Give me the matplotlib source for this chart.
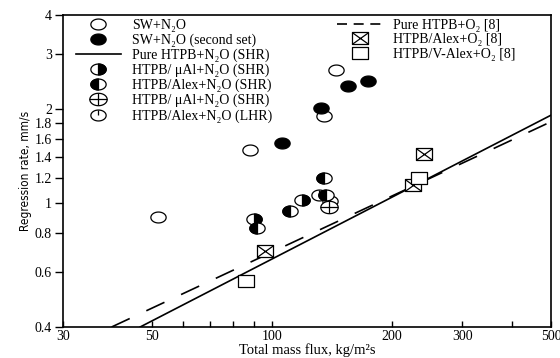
import numpy as np
import matplotlib
matplotlib.use("Agg")
import matplotlib.pyplot as plt
from matplotlib.path import Path
from matplotlib.lines import Line2D
from matplotlib.legend_handler import HandlerTuple

plt.rcParams['font.family'] = ['Liberation Serif', 'DejaVu Serif']

# data (mass flux kg/m2s, regression rate mm/s)
sw_flux = [52, 88, 135, 145]
sw_rate = [0.90, 1.48, 1.90, 2.66]
sw2_flux = [106, 133, 155, 174]
sw2_rate = [1.55, 2.02, 2.37, 2.46]
ual_flux = [90, 119]
ual_rate = [0.89, 1.02]
alex_flux = [92, 111, 137, 135]
alex_rate = [0.83, 0.94, 1.06, 1.20]
ual2_flux = [139]
ual2_rate = [0.97]
lhr_flux = [131, 140]
lhr_rate = [1.06, 1.01]
alexo2_flux = [96, 225, 240]
alexo2_rate = [0.70, 1.14, 1.43]
valexo2_flux = [86, 233]
valexo2_rate = [0.56, 1.20]
# fitted lines, two points each
shr_flux = [46.8, 500]
shr_rate = [0.40, 1.91]
o2_flux = [39.7, 500]
o2_rate = [0.40, 1.82]

xticks = [30, 50, 100, 200, 300, 500]
xminor = [60, 70, 80, 90, 400]
yticks = [0.4, 0.6, 0.8, 1, 1.2, 1.4, 1.6, 1.8, 2, 3, 4]
ylabels = ['0.4', '0.6', '0.8', '1', '1.2', '1.4', '1.6', '1.8', '2', '3', '4']

SX = 1.4  # markers in the original are wider than tall


def compound(*parts):
    return Path.make_compound_path(*parts)


def seg(p0, p1):
    return Path([p0, p1], [Path.MOVETO, Path.LINETO])


t = np.linspace(0, 2 * np.pi, 65)
ell = Path(np.column_stack([SX * np.cos(t), np.sin(t)]), closed=True)
th = np.linspace(np.pi / 2, 3 * np.pi / 2, 33)
left_half = Path(np.vstack([np.column_stack([SX * np.cos(th), np.sin(th)]), [[0, 1]]]), closed=True)
right_half = Path(np.vstack([np.column_stack([-SX * np.cos(th), np.sin(th)]), [[0, 1]]]), closed=True)
# line-only overlays, scaled with a full-size frame so they match the base shapes
cross = compound(seg((-SX, 0), (SX, 0)), seg((0, -1), (0, 1)))
tick = compound(seg((-SX, 0), (-SX, 0)), seg((SX, 0), (SX, 0)), seg((0, 1), (0, 0)))
rect = Path([(-SX, -1), (SX, -1), (SX, 1), (-SX, 1), (-SX, -1)],
            [Path.MOVETO, Path.LINETO, Path.LINETO, Path.LINETO, Path.CLOSEPOLY])
xdiag = compound(seg((-SX, -1), (SX, 1)), seg((-SX, 1), (SX, -1)))

fig = plt.figure(figsize=(5.6, 3.58), dpi=100)
ax = fig.add_axes([0.1125, 0.0866, 0.8715, 0.8715])

ms = 11
kw = dict(ls='none', mec='black', mew=0.9, zorder=3)
styles = {
    'sw': dict(marker=ell, ms=ms, mfc='white', **kw),
    'sw2': dict(marker=ell, ms=ms, mfc='black', **kw),
    'base': dict(marker=ell, ms=ms, mfc='white', **kw),
    'rhalf': dict(marker=right_half, ms=ms, mfc='black', **kw),
    'lhalf': dict(marker=left_half, ms=ms, mfc='black', **kw),
    'big': dict(marker=ell, ms=ms + 1.5, mfc='white', **kw),
    'cross': dict(marker=cross, ms=ms + 1.5, mfc='none', **kw),
    'tick': dict(marker=tick, ms=ms, mfc='none', **kw),
    'box': dict(marker=rect, ms=ms + 1, mfc='white', **kw),
    'xdiag': dict(marker=xdiag, ms=ms + 1, mfc='none', **kw),
}


def pts(x, y, *keys):
    for k in keys:
        ax.plot(x, y, **styles[k])


def handle(*keys):
    lines = tuple(Line2D([], [], **styles[k]) for k in keys)
    return lines if len(lines) > 1 else lines[0]


ax.plot(shr_flux, shr_rate, color='black', lw=1.2, zorder=2)
ax.plot(o2_flux, o2_rate, color='black', lw=1.2, dashes=(12, 11), zorder=2)
pts(sw_flux, sw_rate, 'sw')
pts(sw2_flux, sw2_rate, 'sw2')
pts(lhr_flux, lhr_rate, 'base', 'tick')
pts(ual_flux, ual_rate, 'base', 'rhalf')
pts(alex_flux, alex_rate, 'base', 'lhalf')
pts(ual2_flux, ual2_rate, 'big', 'cross')
pts(alexo2_flux, alexo2_rate, 'box', 'xdiag')
pts(valexo2_flux, valexo2_rate, 'box')

ax.set_xscale('log')
ax.set_yscale('log')
ax.set_xlim(30, 500)
ax.set_ylim(0.4, 4)
ax.set_xticks(xticks)
ax.set_xticklabels([str(v) for v in xticks])
ax.set_xticks(xminor, minor=True)
ax.set_xticklabels([], minor=True)
ax.set_yticks(yticks)
ax.set_yticklabels(ylabels)
ax.set_yticks([], minor=True)
ax.tick_params(axis='x', which='both', direction='in', length=4, width=1, labelsize=10, pad=2)
ax.tick_params(axis='y', direction='out', length=6, width=1, labelsize=10, pad=2)
for s in ax.spines.values():
    s.set_linewidth(1.2)

ax.set_xlabel('Total mass flux, kg/m\u00b2s', fontsize=10.5, labelpad=0)
ax.set_ylabel('Regression rate, mm/s', fontsize=8.5, family='DejaVu Sans',
              fontstretch='condensed', labelpad=2)

h1 = [
    handle('sw'),
    handle('sw2'),
    Line2D([], [], color='black', lw=1.2),
    handle('base', 'rhalf'),
    handle('base', 'lhalf'),
    handle('big', 'cross'),
    handle('base', 'tick'),
]
l1 = ['SW+N\u2082O', 'SW+N\u2082O (second set)', 'Pure HTPB+N\u2082O (SHR)',
      'HTPB/ \u03bcAl+N\u2082O (SHR)', 'HTPB/Alex+N\u2082O (SHR)',
      'HTPB/ \u03bcAl+N\u2082O (SHR)', 'HTPB/Alex+N\u2082O (LHR)']
leg_kw = dict(frameon=False, fontsize=10, handlelength=3.2, handletextpad=0.8,
              labelspacing=0.12, borderaxespad=0.2,
              handler_map={tuple: HandlerTuple(ndivide=1, pad=0)})
leg1 = ax.legend(h1, l1, loc='upper left', bbox_to_anchor=(0.01, 1.015), **leg_kw)
ax.add_artist(leg1)

h2 = [
    Line2D([], [], color='black', lw=1.2, dashes=(6, 4)),
    handle('box', 'xdiag'),
    handle('box'),
]
l2 = ['Pure HTPB+O\u2082 [8]', 'HTPB/Alex+O\u2082 [8]', 'HTPB/V-Alex+O\u2082 [8]']
ax.legend(h2, l2, loc='upper left', bbox_to_anchor=(0.545, 1.015), **leg_kw)

fig.savefig('out.png', dpi=100)
